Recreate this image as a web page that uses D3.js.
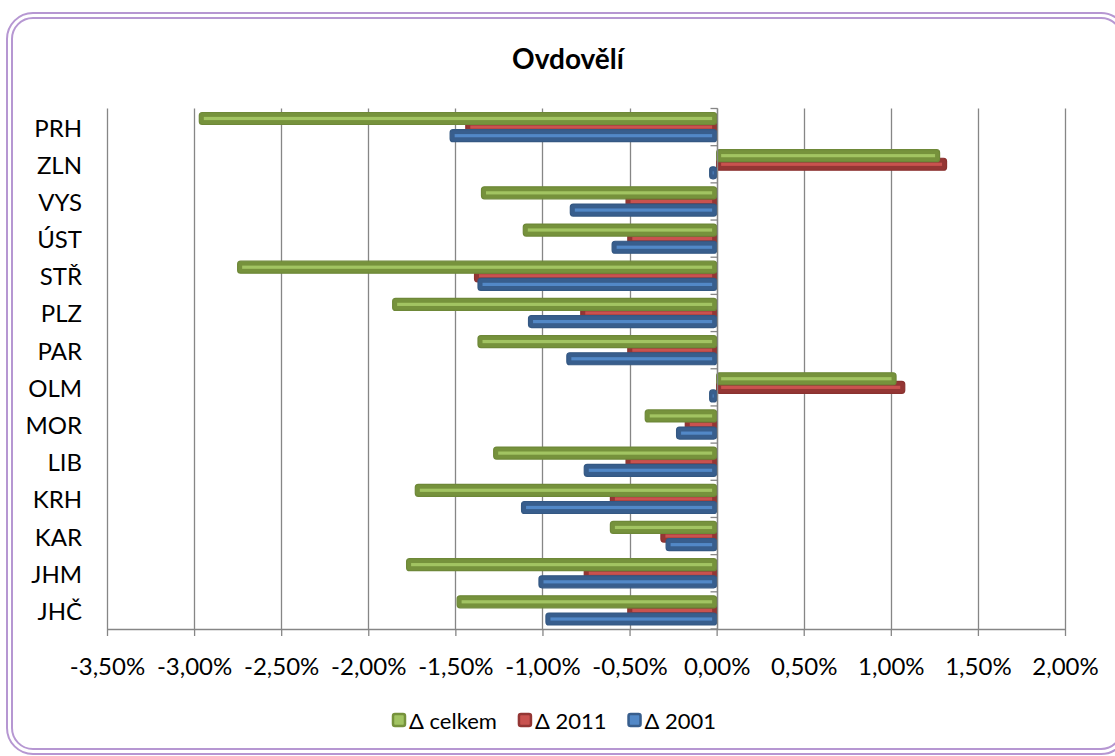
<!DOCTYPE html>
<html>
<head>
<meta charset="utf-8">
<script src="https://cdn.jsdelivr.net/npm/d3@7"></script>
<style>
  html, body { margin: 0; padding: 0; background: #ffffff; }
  svg { display: block; }
  text { font-family: Lato, "Open Sans", sans-serif; fill: #000; }
</style>
</head>
<body>
<svg id="chart" width="1115" height="756"></svg>
<script>
// ---- data ----
const categories = ["PRH", "ZLN", "VYS", "ÚST", "STŘ", "PLZ", "PAR", "OLM", "MOR", "LIB", "KRH", "KAR", "JHM", "JHČ"];
const deltaCelkem = [-2.97, 1.28, -1.35, -1.11, -2.75, -1.86, -1.37, 1.03, -0.41, -1.28, -1.73, -0.61, -1.78, -1.49];
const delta2011   = [-1.44, 1.32, -0.52, -0.51, -1.39, -0.78, -0.51, 1.08, -0.18, -0.52, -0.61, -0.32, -0.76, -0.51];
const delta2001   = [-1.53, -0.04, -0.84, -0.60, -1.37, -1.08, -0.86, -0.04, -0.23, -0.76, -1.12, -0.29, -1.02, -0.98];
const xTicks = [-3.5, -3.0, -2.5, -2.0, -1.5, -1.0, -0.5, 0.0, 0.5, 1.0, 1.5, 2.0];
const seriesNames = ["Δ celkem", "Δ 2011", "Δ 2001"];
const title = "Ovdovělí";

// ---- styles ----
const seriesStyle = {
  "Δ celkem": { dark: "#76923C", light: "#A2C462", offset: -8.6 },
  "Δ 2011":   { dark: "#943634", light: "#C9524F", offset: 0 },
  "Δ 2001":   { dark: "#385E8D", light: "#5288C7", offset: 8.6 }
};
const seriesData = {
  "Δ celkem": deltaCelkem,
  "Δ 2011": delta2011,
  "Δ 2001": delta2001
};

const svg = d3.select("#chart");
const plot = { left: 107, right: 1065, top: 108.5, bottom: 629 };
const gridColor = "#868686";

// frame
const frameColor = "#B697D2";
svg.append("rect").attr("x", 7).attr("y", 13).attr("width", 1120).attr("height", 741)
  .attr("rx", 26).attr("fill", "none").attr("stroke", frameColor).attr("stroke-width", 2);
svg.append("rect").attr("x", 12).attr("y", 18).attr("width", 1110).attr("height", 731)
  .attr("rx", 21).attr("fill", "none").attr("stroke", frameColor).attr("stroke-width", 2);

// scales
const x = d3.scaleLinear().domain([xTicks[0], xTicks[xTicks.length - 1]]).range([plot.left, plot.right]);
const y = d3.scaleBand().domain(categories).range([plot.top, plot.bottom]).padding(0);

// gridlines
svg.append("g").selectAll("line").data(xTicks).join("line")
  .attr("x1", d => Math.round(x(d)) + 0.5).attr("x2", d => Math.round(x(d)) + 0.5)
  .attr("y1", plot.top).attr("y2", plot.bottom)
  .attr("stroke", gridColor).attr("stroke-width", 1.3);

// x axis
const fmt = d => d3.format(".2f")(d).replace(".", ",").replace("−", "-") + "%";
const xAxis = d3.axisBottom(x).tickValues(xTicks).tickFormat(fmt).tickSize(7).tickSizeOuter(0).tickPadding(22);
const gx = svg.append("g").attr("transform", `translate(0,${plot.bottom})`).call(xAxis);
gx.select(".domain").attr("stroke", gridColor).attr("stroke-width", 1.3);
gx.selectAll(".tick line").attr("stroke", gridColor).attr("stroke-width", 1.3);
gx.selectAll(".tick text").attr("font-size", 24).attr("font-family", "Lato, sans-serif").attr("fill", "#000");

// category labels
svg.append("g").selectAll("text").data(categories).join("text")
  .attr("x", 82).attr("y", d => y(d) + y.bandwidth() / 2)
  .attr("text-anchor", "end").attr("dominant-baseline", "central")
  .attr("font-size", 24).text(d => d);

// bars (drawing order: 2011, 2001, celkem)
const barH = 12;
const drawOrder = ["Δ 2011", "Δ 2001", "Δ celkem"];
drawOrder.forEach(name => {
  const st = seriesStyle[name];
  const vals = seriesData[name];
  const rows = categories.map((c, i) => ({ c, v: vals[i] }));
  const g = svg.append("g");
  g.selectAll("rect.bar").data(rows).join("rect").attr("class", "bar")
    .attr("x", d => Math.min(x(0), x(d.v)))
    .attr("width", d => Math.abs(x(d.v) - x(0)))
    .attr("y", d => y(d.c) + y.bandwidth() / 2 + st.offset - barH / 2)
    .attr("height", barH)
    .attr("rx", 3)
    .attr("fill", st.dark)
    .attr("stroke", d3.color(st.dark).darker(0.2))
    .attr("stroke-width", 1.2);
  g.selectAll("rect.hl").data(rows).join("rect").attr("class", "hl")
    .attr("x", d => Math.min(x(0), x(d.v)) + Math.min(4.5, Math.abs(x(d.v) - x(0)) / 2 - 0.5))
    .attr("width", d => Math.max(1, Math.abs(x(d.v) - x(0)) - 9))
    .attr("y", d => y(d.c) + y.bandwidth() / 2 + st.offset - 1.6)
    .attr("height", 3.2)
    .attr("fill", st.light);
});

// zero axis with category ticks
const zx = Math.round(x(0)) + 0.5;
svg.append("line").attr("x1", zx).attr("x2", zx).attr("y1", plot.top).attr("y2", plot.bottom)
  .attr("stroke", gridColor).attr("stroke-width", 1.3);
const bounds = categories.map(c => y(c)).concat([plot.bottom]);
svg.append("g").selectAll("line").data(bounds).join("line")
  .attr("x1", zx - 7).attr("x2", zx).attr("y1", d => d).attr("y2", d => d)
  .attr("stroke", gridColor).attr("stroke-width", 1.3);

// title
svg.append("text").attr("x", 568).attr("y", 69).attr("text-anchor", "middle")
  .attr("font-size", 28).attr("font-weight", "bold").text(title);

// legend
const legend = svg.append("g");
const ly = 720;
let lx = 393;
seriesNames.forEach((name) => {
  const st = seriesStyle[name];
  legend.append("rect").attr("x", lx).attr("y", ly - 6).attr("width", 12).attr("height", 12).attr("rx", 2)
    .attr("fill", st.light).attr("stroke", st.dark).attr("stroke-width", 2.5);
  const t = legend.append("text").attr("x", lx + 16).attr("y", ly).attr("dominant-baseline", "central")
    .attr("font-size", 22).text(name);
  lx += 16 + t.node().getComputedTextLength() + 22;
});
</script>
</body>
</html>
